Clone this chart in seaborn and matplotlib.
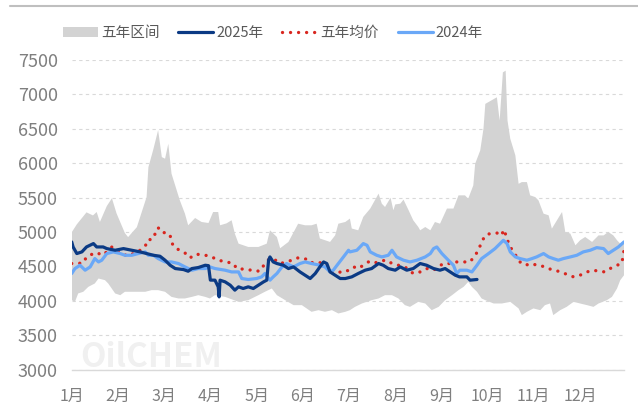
import numpy as np
import matplotlib
matplotlib.use("Agg")
import matplotlib.pyplot as plt
import seaborn as sns
from matplotlib.lines import Line2D

# ---- data (x = month position, 0 = 1月 start) ----
month_labels = ["1月", "2月", "3月", "4月", "5月", "6月", "7月", "8月", "9月", "10月", "11月", "12月"]

band_top_x = [0.00, 0.11, 0.32, 0.46, 0.54, 0.61, 0.76, 0.87, 0.97, 1.15, 1.22, 1.41, 1.62, 1.66, 1.76,
              1.87, 1.95, 2.02, 2.09, 2.16, 2.34, 2.45, 2.52, 2.67, 2.81, 2.96, 3.06, 3.17, 3.21, 3.35,
              3.46, 3.53, 3.61, 3.82, 4.04, 4.22, 4.29, 4.44, 4.51, 4.69, 4.90, 5.05, 5.19, 5.30, 5.37,
              5.59, 5.70, 5.77, 5.92, 6.02, 6.06, 6.20, 6.31, 6.46, 6.64, 6.71, 6.78, 6.90, 6.96, 7.00,
              7.11, 7.18, 7.29, 7.39, 7.50, 7.54, 7.65, 7.76, 7.86, 7.97, 8.12, 8.26, 8.37, 8.51, 8.58,
              8.69, 8.73, 8.84, 8.91, 8.95, 9.20, 9.26, 9.33, 9.39, 9.43, 9.49, 9.60, 9.67, 9.74, 9.85,
              9.92, 10.03, 10.10, 10.21, 10.32, 10.39, 10.50, 10.61, 10.68, 10.79, 10.90, 11.00, 11.11,
              11.26, 11.40, 11.51, 11.61, 11.72, 11.80, 11.87, 11.95]
band_top = [4995, 5110, 5285, 5240, 5290, 5145, 5377, 5490, 5270, 4985, 4925, 5070, 5507, 5943, 6185,
            6480, 6088, 6065, 6282, 5847, 5459, 5266, 5097, 5203, 5145, 5130, 5290, 5290, 5097, 5125,
            5170, 4976, 4830, 4782, 4782, 4830, 5024, 4927, 4763, 4855, 5120, 5097, 5097, 5120, 4905,
            4855, 4950, 5120, 5145, 5194, 5050, 5024, 5220, 5340, 5557, 5411, 5363, 5498, 5315, 5400,
            5411, 5470, 5315, 5170, 5072, 5024, 5072, 5024, 5145, 5120, 5340, 5340, 5532, 5532, 5484,
            5677, 5992, 6185, 6500, 6862, 6958, 6620, 7320, 7345, 6620, 6355, 6113, 5700, 5725, 5725,
            5532, 5507, 5459, 5266, 5242, 5048, 5170, 5290, 5000, 4976, 4806, 4879, 4927,
            4855, 4950, 4950, 5000, 4950, 4879, 4830, 4830]

band_bot_x = [0.00, 0.07, 0.14, 0.25, 0.36, 0.50, 0.58, 0.72, 0.79, 0.94, 1.05, 1.15, 1.30, 1.44, 1.59,
              1.73, 1.87, 2.02, 2.16, 2.31, 2.45, 2.60, 2.74, 2.89, 2.99, 3.10, 3.32, 3.61, 3.82, 4.04,
              4.18, 4.33, 4.44, 4.62, 4.80, 4.98, 5.19, 5.34, 5.48, 5.63, 5.77, 5.92, 6.02, 6.13, 6.28,
              6.49, 6.64, 6.78, 6.93, 7.07, 7.21, 7.32, 7.50, 7.65, 7.79, 7.94, 8.08, 8.23, 8.37, 8.48,
              8.58, 8.66, 8.77, 8.87, 8.95, 9.13, 9.31, 9.49, 9.67, 9.74, 9.85, 9.99, 10.14, 10.24,
              10.35, 10.42, 10.57, 10.71, 10.86, 11.00, 11.15, 11.29, 11.40, 11.58, 11.69, 11.80,
              11.87, 11.95]
band_bot = [4008, 3984, 4106, 4130, 4202, 4251, 4323, 4299, 4251, 4106, 4081, 4130, 4130, 4130, 4130,
            4154, 4154, 4130, 4056, 4033, 4033, 4056, 4081, 4056, 4033, 4081, 4056, 3984, 4008, 4081,
            4130, 4178, 4081, 4008, 3936, 3936, 3839, 3863, 3839, 3863, 3815, 3839, 3863, 3911, 3960,
            4008, 4033, 4081, 4081, 4033, 3936, 3911, 3984, 3960, 3863, 3911, 4008, 4081, 4154, 4202,
            4274, 4202, 4130, 4033, 4008, 3960, 3960, 3984, 3888, 3791, 3839, 3888, 3863, 3936,
            3960, 3791, 3863, 3911, 3984, 3960, 3936, 3911, 3960, 4008, 4056, 4178,
            4299, 4370]

y2025_x = [0.00, 0.03, 0.11, 0.22, 0.32, 0.47, 0.54, 0.68, 0.76, 0.94, 1.12, 1.30, 1.48, 1.62, 1.77,
           1.91, 2.02, 2.13, 2.24, 2.42, 2.52, 2.60, 2.74, 2.89, 2.96, 3.00, 3.10, 3.17, 3.19, 3.21,
           3.32, 3.43, 3.53, 3.61, 3.71, 3.82, 3.93, 4.04, 4.15, 4.22, 4.26, 4.29, 4.36, 4.44, 4.58,
           4.69, 4.80, 4.94, 5.05, 5.16, 5.27, 5.37, 5.45, 5.52, 5.59, 5.70, 5.81, 5.92, 6.06, 6.20,
           6.35, 6.49, 6.64, 6.74, 6.85, 7.00, 7.11, 7.25, 7.39, 7.54, 7.68, 7.83, 7.97, 8.08, 8.19,
           8.30, 8.39, 8.55, 8.62, 8.77]
y2025 = [4855, 4782, 4686, 4710, 4782, 4831, 4782, 4782, 4758, 4734, 4758, 4734, 4710, 4686, 4661,
         4647, 4589, 4516, 4468, 4453, 4429, 4468, 4483, 4516, 4510, 4300, 4299, 4202, 4056, 4299,
         4274, 4226, 4154, 4202, 4178, 4202, 4178, 4226, 4274, 4299, 4589, 4637, 4564, 4541, 4516,
         4468, 4492, 4419, 4371, 4323, 4396, 4492, 4564, 4541, 4419, 4371, 4323, 4323, 4347, 4396,
         4444, 4468, 4541, 4516, 4468, 4444, 4492, 4444, 4468, 4541, 4516, 4468, 4444, 4468, 4419,
         4371, 4347, 4347, 4299, 4309]

avg_x = [0.00, 0.11, 0.25, 0.32, 0.47, 0.55, 0.65, 0.76, 0.87, 0.97, 1.08, 1.23, 1.33, 1.48, 1.59,
         1.65, 1.74, 1.80, 1.87, 1.95, 2.06, 2.13, 2.16, 2.24, 2.34, 2.45, 2.56, 2.67, 2.81, 2.96,
         3.03, 3.17, 3.35, 3.50, 3.57, 3.82, 3.97, 4.08, 4.18, 4.27, 4.36, 4.51, 4.65, 4.76, 4.89,
         5.05, 5.16, 5.30, 5.45, 5.59, 5.77, 5.88, 5.99, 6.10, 6.20, 6.31, 6.42, 6.53, 6.67, 6.82,
         6.93, 7.07, 7.21, 7.39, 7.54, 7.68, 7.83, 8.04, 8.19, 8.33, 8.48, 8.62, 8.73, 8.80, 8.87,
         8.95, 9.05, 9.20, 9.31, 9.34, 9.38, 9.42, 9.45, 9.49, 9.56, 9.63, 9.70, 9.81, 9.96, 10.10,
         10.21, 10.32, 10.42, 10.53, 10.64, 10.75, 10.86, 11.00, 11.15, 11.29, 11.40, 11.54, 11.65,
         11.80, 11.90, 11.93, 11.95]
avg = [4541, 4541, 4550, 4637, 4686, 4700, 4661, 4710, 4782, 4734, 4686, 4647, 4686, 4734, 4792,
       4889, 4889, 4966, 5063, 4990, 4990, 4951, 4845, 4767, 4734, 4695, 4622, 4676, 4671, 4652,
       4637, 4589, 4564, 4541, 4468, 4453, 4429, 4434, 4541, 4603, 4613, 4541, 4564, 4589, 4622,
       4613, 4550, 4564, 4541, 4419, 4419, 4410, 4444, 4492, 4468, 4516, 4564, 4541, 4579, 4589,
       4541, 4516, 4492, 4396, 4419, 4468, 4444, 4541, 4541, 4564, 4564, 4564, 4661, 4734, 4855,
       4951, 4976, 4985, 4951, 5034, 4985, 4879, 4855, 4782, 4710, 4637, 4564, 4516, 4541, 4505,
       4500, 4468, 4444, 4429, 4405, 4371, 4347, 4371, 4419, 4444, 4429, 4419, 4468,
       4516, 4541, 4637, 4734]

y2024_x = [0.00, 0.07, 0.18, 0.29, 0.40, 0.50, 0.58, 0.65, 0.76, 0.90, 1.05, 1.15, 1.30, 1.44, 1.59,
           1.66, 1.77, 1.87, 2.02, 2.16, 2.31, 2.45, 2.60, 2.74, 2.89, 2.99, 3.10, 3.32, 3.46, 3.61,
           3.68, 3.82, 4.00, 4.11, 4.18, 4.29, 4.36, 4.44, 4.55, 4.65, 4.80, 4.94, 5.05, 5.19, 5.37,
           5.48, 5.59, 5.66, 5.77, 5.88, 5.99, 6.02, 6.17, 6.31, 6.39, 6.46, 6.60, 6.71, 6.85, 6.93,
           7.03, 7.18, 7.32, 7.47, 7.65, 7.76, 7.83, 7.90, 8.01, 8.15, 8.26, 8.33, 8.40, 8.55, 8.66,
           8.77, 8.87, 9.02, 9.16, 9.27, 9.34, 9.42, 9.49, 9.60, 9.70, 9.85, 9.96, 10.06, 10.21,
           10.32, 10.42, 10.53, 10.64, 10.79, 10.93, 11.07, 11.22, 11.36, 11.51, 11.61, 11.72,
           11.83, 11.95]
y2024 = [4396, 4468, 4516, 4444, 4492, 4613, 4564, 4589, 4686, 4710, 4686, 4661, 4661, 4686, 4710,
         4661, 4661, 4613, 4564, 4564, 4541, 4492, 4444, 4468, 4468, 4492, 4468, 4444, 4419, 4419,
         4323, 4309, 4323, 4347, 4396, 4299, 4347, 4396, 4492, 4541, 4492, 4541, 4564, 4541, 4516,
         4492, 4419, 4444, 4541, 4637, 4734, 4710, 4734, 4831, 4806, 4710, 4661, 4637, 4661, 4734,
         4637, 4589, 4564, 4589, 4637, 4686, 4758, 4782, 4686, 4589, 4516, 4396, 4444, 4444, 4419,
         4516, 4613, 4686, 4758, 4831, 4879, 4831, 4710, 4637, 4613, 4589, 4613, 4637, 4686,
         4637, 4613, 4589, 4613, 4637, 4661, 4710, 4734, 4772, 4758, 4686, 4734,
         4782, 4855]

y_ticks = [3000, 3500, 4000, 4500, 5000, 5500, 6000, 6500, 7000, 7500]

# ---- style ----
sns.set_style("white")
plt.rcParams["font.family"] = ["Noto Sans CJK SC", "DejaVu Sans"]

c_band = "#D3D3D3"
c_2025 = "#0B3A84"
c_avg = "#D8261F"
c_2024 = "#6AA8F7"
c_text = "#7F7F7F"

fig = plt.figure(figsize=(6.38, 4.19), dpi=100)
ax = fig.add_axes([0.1124, 0.1181, 0.978 - 0.1124, 0.8568 - 0.1181])

# watermark (kept clear of the tick labels)
fig.text(0.125, 0.108, "OilCHEM", fontsize=24, fontweight="bold", color="#000000",
         alpha=0.06, zorder=0, va="bottom")

# band
poly_x = np.concatenate([np.array(band_top_x), np.array(band_bot_x)[::-1]])
poly_y = np.concatenate([np.array(band_top), np.array(band_bot)[::-1]])
band = ax.fill(poly_x, poly_y, color=c_band, lw=0, label="五年区间", zorder=1)[0]

sns.lineplot(x=y2025_x, y=y2025, ax=ax, color=c_2025, linewidth=2.3, estimator=None,
             sort=False, label="2025年", zorder=4)
sns.lineplot(x=avg_x, y=avg, ax=ax, color=c_avg, linewidth=2.4, estimator=None, sort=False,
             linestyle=(0, (0.01, 2.4)), dash_capstyle="round", label="五年均价", zorder=3)
sns.lineplot(x=y2024_x, y=y2024, ax=ax, color=c_2024, linewidth=2.3, estimator=None,
             sort=False, label="2024年", zorder=3)

ax.set_xlim(0, 11.95)
ax.set_ylim(3000, 7500)
ax.set_yticks(y_ticks)
ax.set_xticks(range(12))
ax.set_xticklabels(month_labels)
ax.set_xlabel("")
ax.set_ylabel("")

ax.grid(axis="y", color="#D9D9D9", linestyle=(0, (3, 3)), linewidth=0.8, zorder=0)
ax.set_axisbelow(True)
for s in ["top", "right", "left"]:
    ax.spines[s].set_visible(False)
ax.spines["bottom"].set_color("#D9D9D9")
ax.spines["bottom"].set_linewidth(1.0)
ax.spines["bottom"].set_zorder(0.5)

ax.tick_params(axis="y", length=0, labelsize=13, labelcolor=c_text, pad=10)
ax.tick_params(axis="x", length=5, width=1, color="#D9D9D9", direction="out",
               labelsize=11.5, labelcolor=c_text, pad=8)

# legend
handles, labels = ax.get_legend_handles_labels()
order = ["五年区间", "2025年", "五年均价", "2024年"]
hmap = dict(zip(labels, handles))
leg = ax.legend([hmap[k] for k in order], order, ncol=4, loc="center",
                bbox_to_anchor=(0.428, 0.921), bbox_transform=fig.transFigure,
                frameon=False, fontsize=10.5, handlelength=2.4, handletextpad=0.2,
                columnspacing=1.3, labelcolor="#595959")

# top border line
fig.add_artist(Line2D([0.015, 1.0], [0.986, 0.986], transform=fig.transFigure,
                      color="#BFBFBF", linewidth=1.5))

fig.savefig("out.png", dpi=100)
